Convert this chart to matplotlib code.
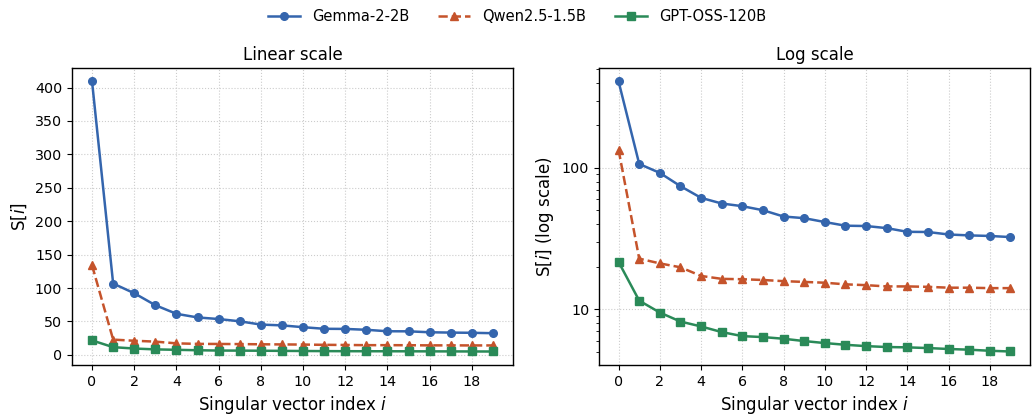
import matplotlib
matplotlib.use("Agg")
import matplotlib.pyplot as plt
import numpy as np

index = list(range(20))
gemma = [409, 106.7, 92.2, 74.3, 61.4, 56.0, 53.6, 50.2, 45.3, 44.1,
         41.4, 39.0, 38.8, 37.5, 35.3, 35.2, 33.8, 33.3, 33.0, 32.4]
qwen = [134, 22.8, 21.1, 19.8, 17.2, 16.4, 16.3, 16.1, 15.8, 15.6,
        15.4, 15.0, 14.8, 14.5, 14.5, 14.4, 14.2, 14.2, 14.1, 14.1]
gptoss = [21.6, 11.5, 9.47, 8.18, 7.55, 6.89, 6.45, 6.35, 6.18, 5.95,
          5.76, 5.60, 5.48, 5.40, 5.37, 5.31, 5.23, 5.17, 5.08, 5.02]

series = [
    ("Gemma-2-2B", gemma, "#3465ad", "o", "-"),
    ("Qwen2.5-1.5B", qwen, "#c5532b", "^", "--"),
    ("GPT-OSS-120B", gptoss, "#2a8a58", "s", "-"),
]

plt.rcParams["font.family"] = "DejaVu Sans"
plt.rcParams["font.size"] = 10
plt.rcParams["xtick.labelsize"] = 10.3
plt.rcParams["ytick.labelsize"] = 10.3

fig = plt.figure(figsize=(10.34, 4.15), dpi=100)
W, H = 1034.0, 415.0
ax0 = fig.add_axes([72 / W, 1 - 365 / H, (513 - 72) / W, (365 - 68) / H])
ax1 = fig.add_axes([599 / W, 1 - 365 / H, (1030 - 599) / W, (365 - 68) / H])
axes = [ax0, ax1]

for ax, scale in zip(axes, ["linear", "log"]):
    for name, vals, color, marker, ls in series:
        ax.plot(index, vals, color=color, marker=marker, linestyle=ls,
                linewidth=1.8, markersize=5.5, label=name)
    ax.set_yscale(scale)
    ax.set_xticks(range(0, 20, 2))
    ax.grid(True, linestyle=":", color="#cccccc", linewidth=0.8)
    ax.set_xlabel("Singular vector index $i$", fontsize=12)
    for s in ax.spines.values():
        s.set_linewidth(1.0)

ax0.set_title("Linear scale", fontsize=12)
ax0.set_ylabel("S[$i$]", fontsize=12)
ax1.set_title("Log scale", fontsize=12)
ax1.set_ylabel("S[$i$] (log scale)", fontsize=12)
ax1.set_yticks([10, 100])
ax1.set_yticklabels(["10", "100"])

handles, labels = ax0.get_legend_handles_labels()
fig.legend(handles, labels, loc="upper center", ncol=3, frameon=False,
           bbox_to_anchor=(0.5, 1.01), fontsize=10.5, columnspacing=2.0,
           handlelength=2.2)

fig.savefig("out.png", dpi=100)
